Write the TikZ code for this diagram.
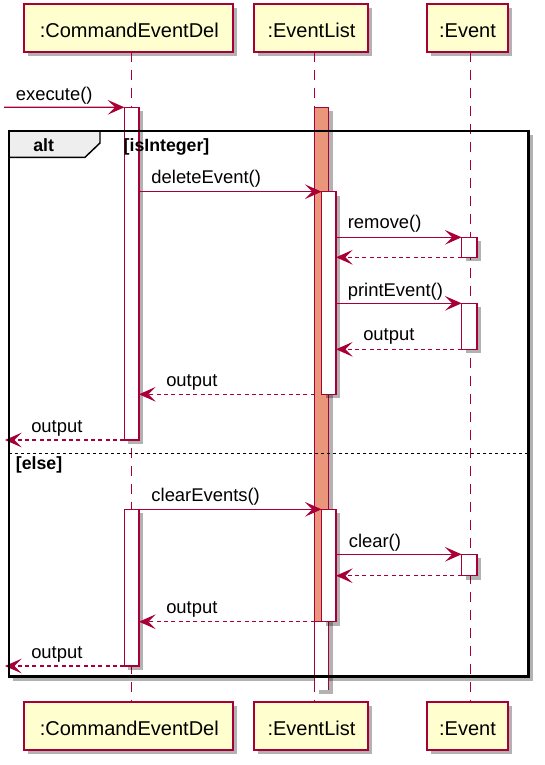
\documentclass[tikz,border=0pt]{standalone}
\usepackage{fontspec}
\setmainfont{Liberation Sans}
\usetikzlibrary{arrows.meta,shadows,fit}
\definecolor{plred}{HTML}{A80036}
\definecolor{plbox}{HTML}{FEFECE}
\definecolor{plsalmon}{HTML}{E9967A}
\definecolor{pltab}{HTML}{EEEEEE}
\begin{document}
\begin{tikzpicture}[x=0.75pt,y=-0.75pt,
  shade/.style={drop shadow={shadow xshift=3pt,shadow yshift=-3pt,opacity=0.3,fill=black}},
  pbox/.style={draw=plred,fill=plbox,line width=1.5pt,inner sep=0pt,outer sep=0pt,shade},
  ptext/.style={anchor=base,inner sep=0pt,font=\fontsize{15}{18}\selectfont},
  actbox/.style={draw=plred,fill=white,line width=1.1pt,inner sep=0pt,outer sep=0pt,shade},
  orangebox/.style={actbox,fill=plsalmon},
  lifeline/.style={draw=plred,line width=0.8pt,dash pattern=on 7.5pt off 6pt},
  msg/.style={draw=plred,line width=1pt,-{Stealth[length=12.5pt,width=11pt,inset=5.5pt]}},
  ret/.style={msg,dash pattern=on 3pt off 2.5pt},
  lbl/.style={anchor=base west,inner sep=0pt,font=\fontsize{13.8}{16}\selectfont},
  guard/.style={anchor=base west,inner sep=0pt,font=\fontsize{13.3}{16}\selectfont\bfseries},
  frameline/.style={draw=black,line width=2pt},
  sepline/.style={draw=black,line width=0.9pt,dash pattern=on 2.5pt off 2pt}]
\useasboundingbox (0,0) rectangle (545,765);

% alt frame background (white with shadow)
\node[fit={(9,131)(528.5,676.5)},inner sep=0pt,outer sep=0pt,fill=white,shade] (alt) {};

% participants
\node[pbox,fit={(24,4.3)(233.3,51.7)}] (pC) {};
\node[pbox,fit={(253.7,4.3)(368.4,51.7)}] (pL) {};
\node[pbox,fit={(426.8,4.3)(507.5,51.7)}] (pE) {};
\node[pbox,fit={(24,701.7)(233.3,750)}] (bC) {};
\node[pbox,fit={(253.7,701.7)(368.4,750)}] (bL) {};
\node[pbox,fit={(426.8,701.7)(507.5,750)}] (bE) {};
\node[ptext] (pCt) at (129.3,37) {:CommandEventDel};
\node[ptext] (pLt) at (311.5,37) {:EventList};
\node[ptext] (pEt) at (467.5,37) {:Event};
\node[ptext] (bCt) at (129.3,735) {:CommandEventDel};
\node[ptext] (bLt) at (311.5,735) {:EventList};
\node[ptext] (bEt) at (467.5,735) {:Event};

% lifeline reference coordinates
\coordinate (lC) at (131.5,0);
\coordinate (lL) at (314.5,0);
\coordinate (lE) at (470.5,0);
\draw[lifeline] (lC |- pC.south) -- (lC |- bC.north);
\draw[lifeline] (lL |- pL.south) -- (lL |- bL.north);
\draw[lifeline] (lE |- pE.south) -- (lE |- bE.north);

% free ends
\coordinate (start) at (4,107.3);
\coordinate (out1) at (5,440);
\coordinate (out2) at (5,666);

% activations
\node[actbox,fit={(124.4,107.3)(139,440)}] (ac1) {};
\node[actbox,fit={(124.4,509.3)(139,666)}] (ac2) {};
\node[orangebox,fit={(314.6,107.3)(328.5,621.7)}] (orange) {};
\node[inner sep=0pt,outer sep=0pt,fill=white,shade,fit={(314.6,621.7)(328.5,690)}] (tailL) {};
\draw[draw=plred,line width=1.1pt] (tailL.north west) -- (tailL.south west);
\draw[draw=plred,line width=1.1pt] (tailL.north east) -- (tailL.south east);
\node[actbox,fit={(321.6,191.7)(336,394.3)}] (al1) {};
\node[actbox,fit={(321.6,509.3)(336,621.7)}] (al2) {};
\node[actbox,fit={(461.6,237.3)(477,257.3)}] (ae1) {};
\node[actbox,fit={(461.6,303.3)(477,349.3)}] (ae2) {};
\node[actbox,fit={(461.6,554.3)(477,575.7)}] (ae3) {};

% messages
\draw[msg] (start) -- (ac1.north west);
\draw[msg] (ac1.east |- al1.north) -- (al1.north west);
\draw[msg] (al1.east |- ae1.north) -- (ae1.north west);
\draw[ret] (ae1.south west) -- (al1.east |- ae1.south);
\draw[msg] (al1.east |- ae2.north) -- (ae2.north west);
\draw[ret] (ae2.south west) -- (al1.east |- ae2.south);
\draw[ret] (orange.west |- al1.south) -- (ac1.east |- al1.south);
\draw[ret] (ac1.south west) -- (out1);
\draw[msg] (ac2.north east) -- (al2.north west);
\draw[msg] (al2.east |- ae3.north) -- (ae3.north west);
\draw[ret] (ae3.south west) -- (al2.east |- ae3.south);
\draw[ret] (orange.west |- al2.south) -- (ac2.east |- al2.south);
\draw[ret] (ac2.south west) -- (out2);

% labels
\node[lbl] (t1) at (15.6,100) {execute()};
\node[lbl] (t2) at (151.2,183.3) {deleteEvent()};
\node[lbl] (t3) at (347.6,228.3) {remove()};
\node[lbl] (t4) at (347.6,296) {printEvent()};
\node[lbl] (t5) at (363,340.7) {output};
\node[lbl] (t6) at (166,386.7) {output};
\node[lbl] (t7) at (31,432.7) {output};
\node[lbl] (t8) at (151.2,501.7) {clearEvents()};
\node[lbl] (t9) at (348.6,547.3) {clear()};
\node[lbl] (t10) at (166,613.3) {output};
\node[lbl] (t11) at (31,658.3) {output};

% frame border, tab, separator
\draw[draw=black,line width=1.1pt,fill=pltab] (alt.north west) -- (alt.north west |- 0,157.3) -- (85,157.3) -- (100,143) -- (100,131) -- cycle;
\draw[frameline] (alt.north west) rectangle (alt.south east);
\draw[sepline] (alt.west |- 0,453.3) -- (alt.east |- 0,453.3);
\node[guard] (galt) at (33,151.7) {alt};
\node[guard] (g1) at (123.4,151.7) {[isInteger]};
\node[guard] (g2) at (15.6,469.3) {[else]};
\end{tikzpicture}
\end{document}
